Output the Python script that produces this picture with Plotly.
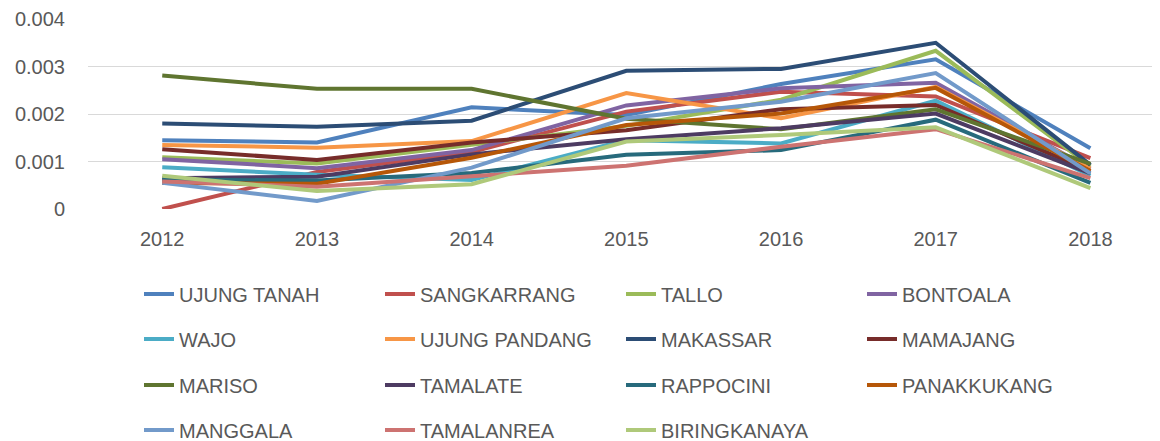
import plotly.graph_objects as go

years = ["2012", "2013", "2014", "2015", "2016", "2017", "2018"]

names = ["UJUNG TANAH", "SANGKARRANG", "TALLO", "BONTOALA", "WAJO", "UJUNG PANDANG",
         "MAKASSAR", "MAMAJANG", "MARISO", "TAMALATE", "RAPPOCINI", "PANAKKUKANG",
         "MANGGALA", "TAMALANREA", "BIRINGKANAYA"]

ujung_tanah = [0.00145, 0.00140, 0.00214, 0.00198, 0.00263, 0.00315, 0.00128]
sangkarrang = [0.0, 0.00078, 0.00120, 0.00205, 0.00247, 0.00237, 0.00107]
tallo = [0.00109, 0.00096, 0.00135, 0.00175, 0.00230, 0.00333, 0.00090]
bontoala = [0.00105, 0.00086, 0.00124, 0.00218, 0.00254, 0.00266, 0.00085]
wajo = [0.00088, 0.00072, 0.00061, 0.00145, 0.00138, 0.00228, 0.00070]
ujung_pandang = [0.00135, 0.00129, 0.00143, 0.00244, 0.00191, 0.00257, 0.00085]
makassar = [0.00180, 0.00173, 0.00186, 0.00291, 0.00295, 0.00350, 0.00093]
mamajang = [0.00126, 0.00103, 0.00140, 0.00166, 0.00210, 0.00219, 0.00080]
mariso = [0.00281, 0.00253, 0.00253, 0.00190, 0.00168, 0.00210, 0.00095]
tamalate = [0.00065, 0.00068, 0.00115, 0.00147, 0.00170, 0.00201, 0.00075]
rappocini = [0.00062, 0.00060, 0.00076, 0.00114, 0.00124, 0.00188, 0.00055]
panakkukang = [0.00055, 0.00053, 0.00108, 0.00177, 0.00201, 0.00255, 0.00080]
manggala = [0.00055, 0.00017, 0.00087, 0.00191, 0.00226, 0.00286, 0.00075]
tamalanrea = [0.00058, 0.00047, 0.00069, 0.00091, 0.00131, 0.00168, 0.00065]
biringkanaya = [0.00070, 0.00038, 0.00052, 0.00142, 0.00156, 0.00172, 0.00044]

series = [ujung_tanah, sangkarrang, tallo, bontoala, wajo, ujung_pandang, makassar,
          mamajang, mariso, tamalate, rappocini, panakkukang, manggala, tamalanrea,
          biringkanaya]

colors = ["#4F81BD", "#C0504D", "#9BBB59", "#8064A2", "#4BACC6", "#F79646",
          "#2C4D75", "#772C2A", "#5F7530", "#4D3B62", "#276A7C", "#B65708",
          "#729ACA", "#CD7371", "#AFC97A"]

FONT = "Liberation Sans"
GREY = "#595959"

fig = go.Figure()
for i, (n, v, c) in enumerate(zip(names, series, colors)):
    row = i // 4
    fig.add_trace(go.Scatter(
        x=years, y=v, name=n, mode="lines",
        line=dict(color=c, width=4),
        legend="legend" if row == 0 else f"legend{row + 1}",
    ))

# page body has an 8px default margin, so the figure is 8px smaller
OFF = 8
W, H = 1160 - OFF, 441 - OFF
ml, mr, mt, mb = 88 - OFF, 0, 19 - OFF, 232
pw, ph = W - ml - mr, H - mt - mb

def legend_cfg(row_y_px):
    return dict(
        orientation="h", x=(131 - ml) / pw, xanchor="left",
        y=(H - mb - (row_y_px - OFF)) / ph, yanchor="middle",
        entrywidth=196, entrywidthmode="pixels",
        font=dict(family=FONT, size=20, color=GREY),
        bgcolor="rgba(0,0,0,0)", borderwidth=0,
    )

fig.update_layout(
    width=W, height=H,
    margin=dict(l=ml, r=mr, t=mt, b=mb, pad=0, autoexpand=False),
    paper_bgcolor="white", plot_bgcolor="white",
    font=dict(family=FONT, size=20, color=GREY),
    showlegend=True,
    legend=legend_cfg(294),
    legend2=legend_cfg(339),
    legend3=legend_cfg(385),
    legend4=legend_cfg(430),
    xaxis=dict(type="category", range=[-0.48, 6.45], showgrid=False,
               showline=False, zeroline=False,
               ticks="outside", ticklen=12, tickcolor="rgba(0,0,0,0)",
               tickfont=dict(family=FONT, size=20, color=GREY)),
    yaxis=dict(range=[0, 0.004], dtick=0.001, tick0=0, showgrid=True,
               gridcolor="#D9D9D9", gridwidth=1, zeroline=False, showline=False,
               ticks="outside", ticklen=18, tickcolor="rgba(0,0,0,0)",
               tickfont=dict(family=FONT, size=20, color=GREY)),
)

fig.write_html("out.html")
